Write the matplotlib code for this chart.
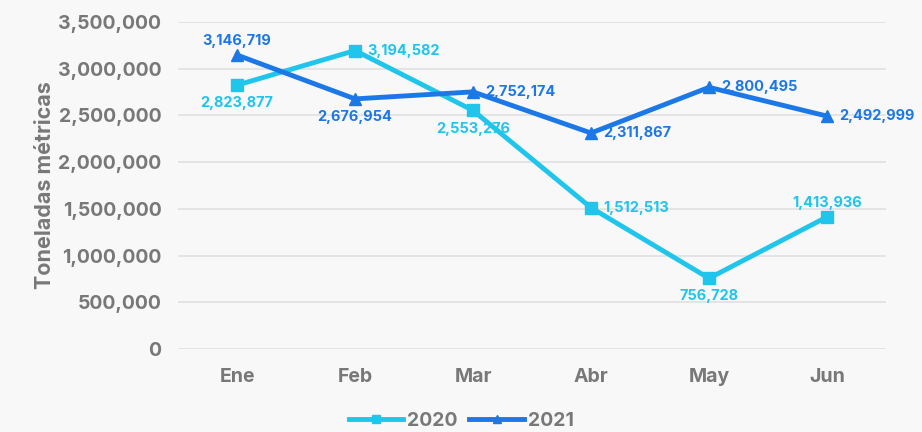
import matplotlib.pyplot as plt
from matplotlib.ticker import FuncFormatter

months = ["Ene", "Feb", "Mar", "Abr", "May", "Jun"]
vals_2020 = [2823877, 3194582, 2553276, 1512513, 756728, 1413936]
vals_2021 = [3146719, 2676954, 2752174, 2311867, 2800495, 2492999]

# posición de etiqueta por punto
pos_2020 = ["below", "right", "below", "right", "below", "above"]
pos_2021 = ["above", "below", "right", "right", "right", "right"]

C2020 = "#20c5ec"
C2021 = "#1c78e6"
GRAY = "#787878"
BG = "#f8f8f8"

plt.rcParams["font.family"] = ["Inter", "DejaVu Sans"]


def fmt(v):
    return f"{v:,.0f}"


def annotate(ax, xs, ys, where, color):
    offs = {"above": (0, 5, "center", "bottom"),
            "below": (0, -8, "center", "top"),
            "right": (9, 0, "left", "center")}
    for x, y, w in zip(xs, ys, where):
        dx, dy, ha, va = offs[w]
        ax.annotate(fmt(y), (x, y), xytext=(dx, dy), textcoords="offset points",
                    ha=ha, va=va, color=color, fontsize=10.5, fontweight="bold")


fig = plt.figure(figsize=(9.22, 4.32), dpi=100, facecolor=BG)
ax = fig.add_axes([178 / 922, 1 - 349 / 432, 708 / 922, 327 / 432], facecolor=BG)

xs = list(range(len(months)))
ax.plot(xs, vals_2020, color=C2020, linewidth=3.5, marker="s", markersize=8, label="2020", zorder=3)
ax.plot(xs, vals_2021, color=C2021, linewidth=3.5, marker="^", markersize=8, label="2021", zorder=4)
annotate(ax, xs, vals_2020, pos_2020, C2020)
annotate(ax, xs, vals_2021, pos_2021, C2021)

ax.set_xlim(-0.5, 5.5)
ax.set_ylim(0, 3500000)
ax.set_yticks(range(0, 3500001, 500000))
ax.yaxis.set_major_formatter(FuncFormatter(lambda v, p: fmt(v)))
ax.set_xticks(xs)
ax.set_xticklabels(months)
ax.grid(axis="y", color="#e0e0e0", linewidth=1.2)
ax.set_axisbelow(True)
for s in ax.spines.values():
    s.set_visible(False)
ax.tick_params(length=0, colors=GRAY, labelsize=14, pad=12)
ax.tick_params(axis="x", pad=14)
for lbl in ax.get_xticklabels() + ax.get_yticklabels():
    lbl.set_fontweight("bold")
ax.set_ylabel("Toneladas métricas", fontsize=15.5, color=GRAY, fontweight="bold", labelpad=2)

ax.legend(loc="center", bbox_to_anchor=(0.4, -0.22), ncol=2, frameon=False,
          labelcolor=GRAY, handlelength=2.8, columnspacing=0.6,
          handletextpad=0.2, markerscale=0.8, prop={"weight": "bold", "size": 14})

fig.savefig("out.png", dpi=100, facecolor=BG)
